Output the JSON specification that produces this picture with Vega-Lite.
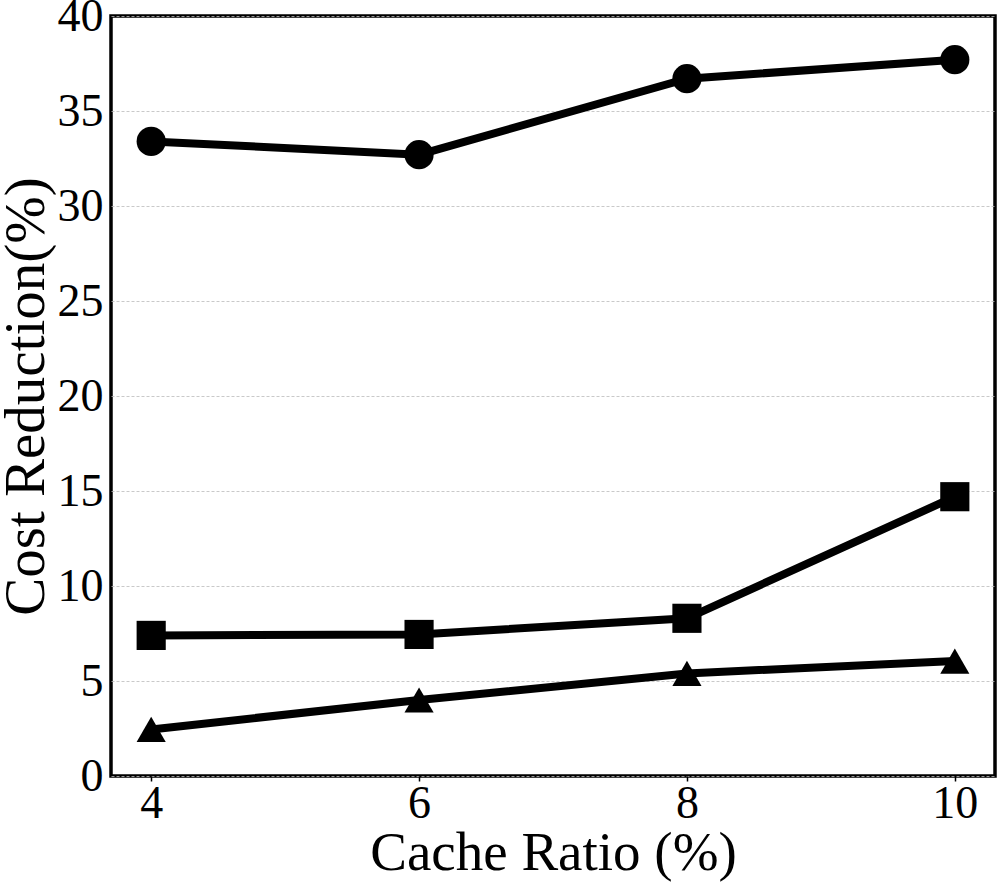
{
  "$schema": "https://vega.github.io/schema/vega-lite/v6.json",
  "width": 884,
  "height": 760,
  "autosize": {"type": "none"},
  "padding": {"left": 111, "top": 16, "right": 2, "bottom": 107},
  "background": "white",
  "config": {
    "view": {"stroke": "black", "strokeWidth": 3.5},
    "font": "Liberation Serif",
    "axis": {
      "labelFont": "Liberation Serif",
      "titleFont": "Liberation Serif",
      "labelColor": "black",
      "titleColor": "black",
      "titleFontWeight": "normal",
      "domain": false,
      "tickColor": "black",
      "tickSize": 5,
      "tickWidth": 1.5,
      "labelFontSize": 46
    }
  },
  "data": {
    "values": [
      {"ratio": 4, "value": 33.4, "series": "A"},
      {"ratio": 6, "value": 32.7, "series": "A"},
      {"ratio": 8, "value": 36.7, "series": "A"},
      {"ratio": 10, "value": 37.7, "series": "A"},
      {"ratio": 4, "value": 7.4, "series": "B"},
      {"ratio": 6, "value": 7.45, "series": "B"},
      {"ratio": 8, "value": 8.3, "series": "B"},
      {"ratio": 10, "value": 14.7, "series": "B"},
      {"ratio": 4, "value": 2.45, "series": "C"},
      {"ratio": 6, "value": 4.0, "series": "C"},
      {"ratio": 8, "value": 5.4, "series": "C"},
      {"ratio": 10, "value": 6.05, "series": "C"}
    ]
  },
  "encoding": {
    "x": {
      "field": "ratio",
      "type": "quantitative",
      "scale": {"domain": [3.7, 10.3], "nice": false, "zero": false},
      "axis": {"values": [4, 6, 8, 10], "grid": false, "title": "Cache Ratio (%)", "titleFontSize": 55, "labelPadding": 0, "titlePadding": 0}
    },
    "y": {
      "field": "value",
      "type": "quantitative",
      "scale": {"domain": [0, 40], "nice": false},
      "axis": {
        "values": [0, 5, 10, 15, 20, 25, 30, 35, 40],
        "ticks": false,
        "grid": true,
        "gridColor": "#bbbbbb",
        "gridDash": [3, 2],
        "gridWidth": 0.8,
        "title": "Cost Reduction(%)",
        "titleFontSize": 57,
        "labelPadding": 8,
        "titlePadding": 2
      }
    },
    "detail": {"field": "series"}
  },
  "layer": [
    {
      "mark": {"type": "line", "color": "black", "strokeWidth": 8}
    },
    {
      "mark": {"type": "point", "filled": true, "color": "black", "opacity": 1, "size": 850},
      "encoding": {
        "shape": {
          "field": "series",
          "type": "nominal",
          "scale": {"domain": ["A", "B", "C"], "range": ["circle", "square", "triangle-up"]},
          "legend": null
        }
      }
    }
  ]
}
